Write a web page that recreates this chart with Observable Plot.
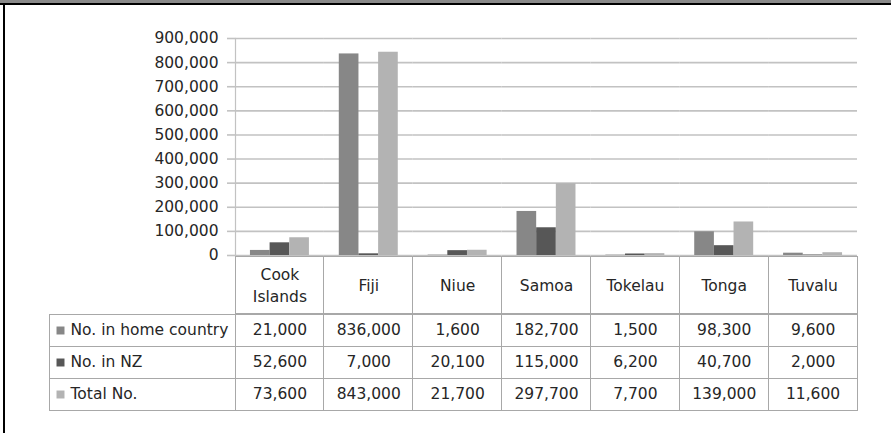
<!DOCTYPE html>
<html>
<head>
<meta charset="utf-8">
<script src="https://cdn.jsdelivr.net/npm/d3@7"></script>
<script src="https://cdn.jsdelivr.net/npm/@observablehq/plot@0.6"></script>
<style>
  html, body { margin: 0; padding: 0; background: #fff; }
  #wrap { position: relative; width: 891px; height: 433px; overflow: hidden; font-family: "DejaVu Sans", sans-serif; }
  #chart, #header, #table { position: absolute; left: 0; }
  #chart { top: 0; }
  #header { top: 256px; }
  #table { top: 313px; }
  .edge { position: absolute; }
</style>
</head>
<body>
<div id="wrap">
  <div id="chart"></div>
  <div id="header"></div>
  <div id="table"></div>
  <div class="edge" style="left:0;top:0;width:891px;height:3px;background:#8a8a8a"></div>
  <div class="edge" style="left:0;top:3px;width:891px;height:2px;background:#000"></div>
  <div class="edge" style="left:3px;top:3px;width:2px;height:430px;background:#000"></div>
</div>
<script>
const categories = ["Cook Islands", "Fiji", "Niue", "Samoa", "Tokelau", "Tonga", "Tuvalu"];
const seriesNames = ["No. in home country", "No. in NZ", "Total No."];
const homeValues = [21000, 836000, 1600, 182700, 1500, 98300, 9600];
const nzValues = [52600, 7000, 20100, 115000, 6200, 40700, 2000];
const totalValues = [73600, 843000, 21700, 297700, 7700, 139000, 11600];
const yTicks = [0, 100000, 200000, 300000, 400000, 500000, 600000, 700000, 800000, 900000];
const seriesColors = ["#878787", "#575757", "#b3b3b3"];

const seriesValues = [homeValues, nzValues, totalValues];
const data = [];
seriesNames.forEach((s, si) => {
  categories.forEach((c, ci) => data.push({country: c, series: s, value: seriesValues[si][ci]}));
});

const gridColor = "#c2c2c2";
const lineColor = "#a8a8a8";
const textColor = "#262626";
const fmt = d3.format(",");
const baseStyle = {fontFamily: "DejaVu Sans, sans-serif", fontSize: "15.5px", color: textColor, background: "transparent", overflow: "visible"};

const chart = Plot.plot({
  width: 891, height: 256,
  marginLeft: 235, marginRight: 34, marginTop: 38, marginBottom: 1,
  style: baseStyle,
  fx: {domain: categories, padding: 0, round: false, axis: null},
  x: {domain: seriesNames, paddingInner: 0, paddingOuter: 0.76, round: false, axis: null},
  y: {domain: [0, 900000], axis: null},
  color: {domain: seriesNames, range: seriesColors},
  marks: [
    Plot.gridY(yTicks, {stroke: gridColor, strokeOpacity: 1, strokeWidth: 1.6}),
    Plot.axisY(yTicks, {tickFormat: fmt, tickSize: 8, tickPadding: 9, label: null, stroke: gridColor, strokeOpacity: 1, strokeWidth: 1.6, fill: textColor}),
    Plot.frame({anchor: "left", facetAnchor: "left", stroke: gridColor, strokeWidth: 1.2}),
    Plot.barY(data, {fx: "country", x: "series", y: "value", fill: "series"})
  ]
});
document.getElementById("chart").appendChild(chart);

const header = Plot.plot({
  width: 891, height: 57,
  marginLeft: 235, marginRight: 34, marginTop: 0, marginBottom: 0,
  style: baseStyle,
  x: {domain: categories, paddingInner: 0, paddingOuter: 0, round: false, axis: null},
  marks: [
    Plot.cell(categories, {x: d => d, fill: "none", stroke: lineColor, shapeRendering: "crispEdges"}),
    Plot.text(categories, {x: d => d, text: d => d, lineWidth: 5, lineHeight: 1.45, fill: textColor, dy: -1})
  ]
});
document.getElementById("header").appendChild(header);

const table = Plot.plot({
  width: 891, height: 98,
  marginLeft: 49, marginRight: 34, marginTop: 0, marginBottom: 1,
  style: baseStyle,
  x: {domain: categories, range: [235, 857], paddingInner: 0, paddingOuter: 0, round: false, axis: null},
  y: {domain: seriesNames, paddingInner: 0, paddingOuter: 0, round: true, axis: null},
  color: {domain: seriesNames, range: seriesColors},
  marks: [
    Plot.cell(seriesNames, {y: d => d, fill: "none", stroke: lineColor, shapeRendering: "crispEdges"}),
    Plot.cell(data, {x: "country", y: "series", fill: "none", stroke: lineColor, shapeRendering: "crispEdges"}),
    Plot.text(data, {x: "country", y: "series", text: d => fmt(d.value), fill: textColor}),
    Plot.dot(seriesNames, {y: d => d, frameAnchor: "left", dx: 11, symbol: "square", r: 4.5, fill: d => d}),
    Plot.text(seriesNames, {y: d => d, frameAnchor: "left", textAnchor: "start", dx: 21, text: d => d, fill: textColor})
  ]
});
document.getElementById("table").appendChild(table);
</script>
</body>
</html>
